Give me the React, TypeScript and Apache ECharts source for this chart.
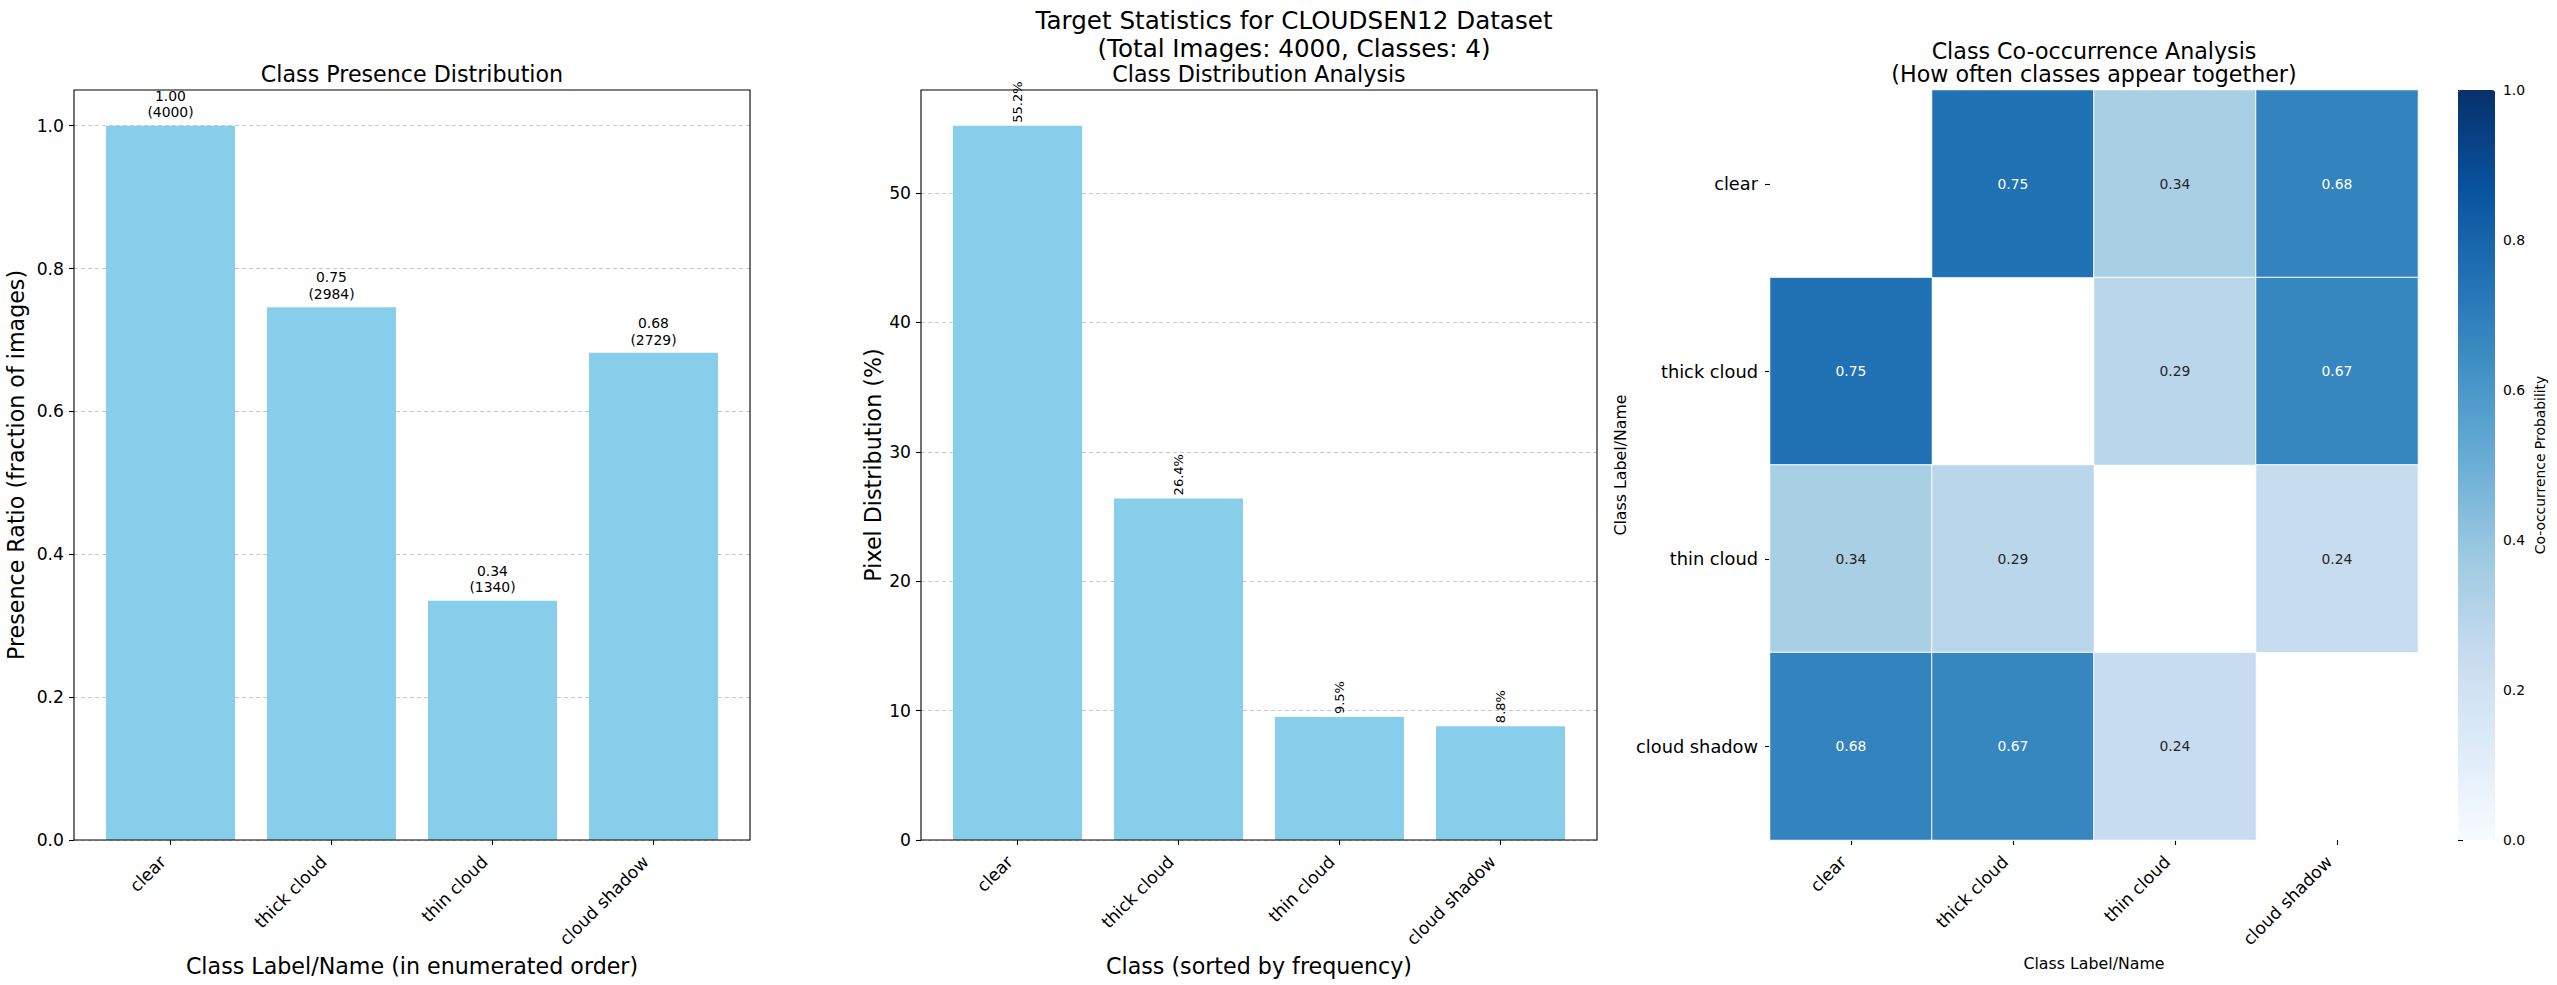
import React, { useEffect, useRef } from 'react';
import * as echarts from 'echarts';

// ---------- data ----------
const classNames = ['clear', 'thick cloud', 'thin cloud', 'cloud shadow'];
const presenceRatio = [1.0, 0.746, 0.335, 0.682];
const presenceCount = [4000, 2984, 1340, 2729];
const sortedClassNames = ['clear', 'thick cloud', 'thin cloud', 'cloud shadow'];
const pixelPercent = [55.2, 26.4, 9.5, 8.8];
const cooccurrence: (number | null)[][] = [
  [null, 0.75, 0.34, 0.68],
  [0.75, null, 0.29, 0.67],
  [0.34, 0.29, null, 0.24],
  [0.68, 0.67, 0.24, null],
];
const presenceTicks = [0, 0.2, 0.4, 0.6, 0.8, 1.0];
const pixelTicks = [0, 10, 20, 30, 40, 50];
const colorbarTicks = [0, 0.2, 0.4, 0.6, 0.8, 1.0];
const bluesStops = ['#f7fbff', '#deebf7', '#c6dbef', '#9ecae1', '#6baed6', '#4292c6', '#2171b5', '#08519c', '#08306b'];

const FONT = '"DejaVu Sans", "Liberation Sans", sans-serif';
const BAR_COLOR = '#87CEEB';
const GRID_LINE = { color: '#c8c8c8', type: [4, 3] as number[], width: 1 };
const TICK_STYLE = { color: '#000', width: 1.1 };
const TICK_FS = 17.2;
const LABEL_FS = 22.2;

function buildOption() {
  const heatData: any[] = [];
  cooccurrence.forEach((row, y) => {
    row.forEach((v, x) => {
      if (v === null) return;
      heatData.push({
        value: [x, y, v],
        label: { color: v > 0.5 ? '#ffffff' : '#262626' },
      });
    });
  });

  const catAxis = (gridIndex: number, data: string[], name: string, nameGap: number, nameSize: number) => ({
    gridIndex,
    type: 'category',
    data,
    axisLine: { show: false },
    axisTick: { show: true, alignWithLabel: true, length: 5, lineStyle: TICK_STYLE },
    axisLabel: { rotate: 45, fontSize: TICK_FS, color: '#000', margin: 11, padding: [0, 11, 0, 0], fontFamily: FONT },
    name,
    nameLocation: 'middle',
    nameGap,
    nameTextStyle: { fontSize: nameSize, color: '#000', fontFamily: FONT },
  });

  return {
    animation: false,
    backgroundColor: '#ffffff',
    textStyle: { fontFamily: FONT },
    grid: [
      { left: 74, top: 90, width: 676, height: 750 },
      { left: 90, top: 90, width: 644, height: 750 },
      { left: 921, top: 90, width: 676, height: 750 },
      { left: 937, top: 90, width: 644, height: 750 },
      { left: 1770, top: 90, width: 648, height: 750 },
      { left: 2458, top: 90, width: 37, height: 750 },
    ],
    xAxis: [
      { gridIndex: 0, type: 'value', show: false, min: 0, max: 1 },
      catAxis(1, classNames, 'Class Label/Name (in enumerated order)', 112, LABEL_FS),
      { gridIndex: 2, type: 'value', show: false, min: 0, max: 1 },
      catAxis(3, sortedClassNames, 'Class (sorted by frequency)', 112, LABEL_FS),
      catAxis(4, classNames, 'Class Label/Name', 115, 15.8),
      { gridIndex: 5, type: 'value', show: false, min: 0, max: 1 },
    ],
    yAxis: [
      {
        gridIndex: 0, type: 'value', min: 0, max: 1.05,
        axisLine: { show: false },
        axisTick: { show: true, length: 5, customValues: presenceTicks, lineStyle: TICK_STYLE },
        axisLabel: { customValues: presenceTicks, formatter: (v: number) => v.toFixed(1), fontSize: TICK_FS, color: '#000', margin: 10, fontFamily: FONT },
        splitLine: { show: true, lineStyle: GRID_LINE },
        name: 'Presence Ratio (fraction of images)', nameLocation: 'middle', nameGap: 47,
        nameTextStyle: { fontSize: LABEL_FS, color: '#000', fontFamily: FONT },
      },
      { gridIndex: 1, type: 'value', min: 0, max: 1.05, show: false, splitLine: { show: false } },
      {
        gridIndex: 2, type: 'value', min: 0, max: 57.96,
        axisLine: { show: false },
        axisTick: { show: true, length: 5, customValues: pixelTicks, lineStyle: TICK_STYLE },
        axisLabel: { customValues: pixelTicks, formatter: (v: number) => String(v), fontSize: TICK_FS, color: '#000', margin: 10, fontFamily: FONT },
        splitLine: { show: true, lineStyle: GRID_LINE },
        name: 'Pixel Distribution (%)', nameLocation: 'middle', nameGap: 37,
        nameTextStyle: { fontSize: LABEL_FS, color: '#000', fontFamily: FONT },
      },
      { gridIndex: 3, type: 'value', min: 0, max: 57.96, show: false, splitLine: { show: false } },
      {
        gridIndex: 4, type: 'category', data: classNames, inverse: true,
        axisLine: { show: false },
        axisTick: { show: true, alignWithLabel: true, length: 5, lineStyle: TICK_STYLE },
        axisLabel: { fontSize: 17.8, color: '#000', margin: 12, fontFamily: FONT },
        name: 'Class Label/Name', nameLocation: 'middle', nameGap: 142,
        nameTextStyle: { fontSize: 15.8, color: '#000', fontFamily: FONT },
      },
      {
        gridIndex: 5, type: 'value', position: 'right', min: 0, max: 1,
        axisLine: { show: false },
        axisTick: { show: true, length: 5, customValues: colorbarTicks, lineStyle: TICK_STYLE },
        axisLabel: { customValues: colorbarTicks, formatter: (v: number) => v.toFixed(1), fontSize: 13.9, color: '#000', margin: 8, fontFamily: FONT },
        splitLine: { show: false },
        name: 'Co-occurrence Probability', nameLocation: 'middle', nameRotate: 90, nameGap: 38,
        nameTextStyle: { fontSize: 13.9, color: '#000', fontFamily: FONT },
      },
    ],
    visualMap: {
      type: 'continuous',
      seriesIndex: 2,
      min: 0,
      max: 1,
      inRange: { color: bluesStops },
      left: 2458,
      top: 90,
      itemWidth: 37,
      itemHeight: 750,
      padding: 0,
      calculable: false,
      hoverLink: false,
      text: null,
      showLabel: false,
    },
    series: [
      {
        type: 'bar', xAxisIndex: 1, yAxisIndex: 1,
        data: presenceRatio,
        barWidth: 129,
        itemStyle: { color: BAR_COLOR },
        label: {
          show: true, position: 'top', distance: 5,
          formatter: (p: any) => `${p.value.toFixed(2)}\n(${presenceCount[p.dataIndex]})`,
          fontSize: 13.9, lineHeight: 16.7, color: '#000', fontFamily: FONT,
        },
      },
      {
        type: 'bar', xAxisIndex: 3, yAxisIndex: 3,
        data: pixelPercent,
        barWidth: 129,
        itemStyle: { color: BAR_COLOR },
        label: {
          show: true, position: 'top', distance: 3, rotate: 90, align: 'left', verticalAlign: 'middle',
          formatter: (p: any) => `${p.value.toFixed(1)}%`,
          fontSize: 13, color: '#000', fontFamily: FONT,
        },
      },
      {
        type: 'heatmap', xAxisIndex: 4, yAxisIndex: 4,
        data: heatData,
        itemStyle: { borderColor: '#ffffff', borderWidth: 1 },
        label: {
          show: true, fontSize: 13.9, fontFamily: FONT,
          formatter: (p: any) => p.value[2].toFixed(2),
        },
        emphasis: { disabled: true },
      },
    ],
    graphic: [
      { type: 'rect', z: 100, silent: true, shape: { x: 74, y: 90, width: 676, height: 750 }, style: { fill: 'none', stroke: '#000', lineWidth: 1.1 } },
      { type: 'rect', z: 100, silent: true, shape: { x: 921, y: 90, width: 676, height: 750 }, style: { fill: 'none', stroke: '#000', lineWidth: 1.1 } },
      {
        type: 'text', x: 1294, y: 7, z: 100,
        style: { text: 'Target Statistics for CLOUDSEN12 Dataset\n(Total Images: 4000, Classes: 4)', fontSize: 24.6, fontFamily: FONT, align: 'center', verticalAlign: 'top', lineHeight: 27.6, fill: '#000' },
      },
      {
        type: 'text', x: 412, y: 74, z: 100,
        style: { text: 'Class Presence Distribution', fontSize: LABEL_FS, fontFamily: FONT, align: 'center', verticalAlign: 'middle', fill: '#000' },
      },
      {
        type: 'text', x: 1259, y: 74, z: 100,
        style: { text: 'Class Distribution Analysis', fontSize: LABEL_FS, fontFamily: FONT, align: 'center', verticalAlign: 'middle', fill: '#000' },
      },
      {
        type: 'text', x: 2094, y: 62.4, z: 100,
        style: { text: 'Class Co-occurrence Analysis\n(How often classes appear together)', fontSize: LABEL_FS, fontFamily: FONT, align: 'center', verticalAlign: 'middle', lineHeight: 23.3, fill: '#000' },
      },
    ],
  };
}

export default function App() {
  const ref = useRef<HTMLDivElement>(null);
  useEffect(() => {
    if (!ref.current) return;
    const chart = echarts.init(ref.current, null, { renderer: 'svg' });
    chart.setOption(buildOption() as any);
    return () => chart.dispose();
  }, []);
  return (
    <div
      ref={ref}
      style={{ position: 'absolute', left: 0, top: 0, width: 2557, height: 985, background: '#fff' }}
    />
  );
}
